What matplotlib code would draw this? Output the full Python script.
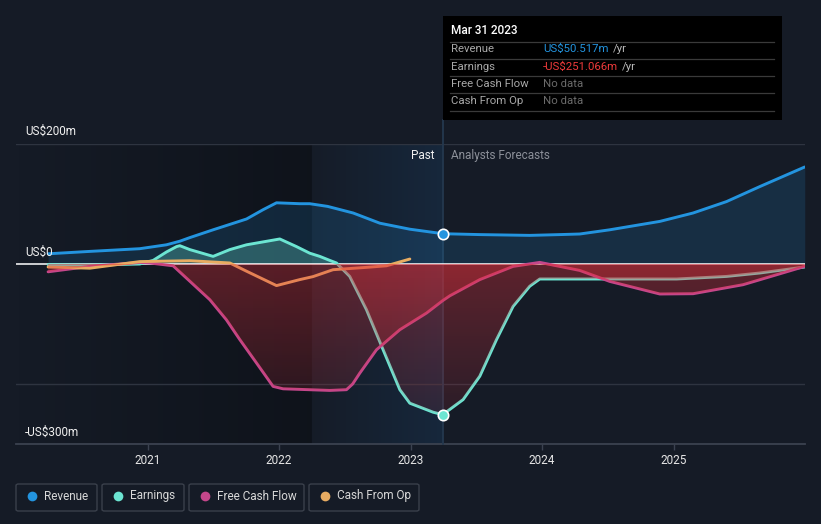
import numpy as np
import matplotlib
matplotlib.use("Agg")
import matplotlib.pyplot as plt
from matplotlib.colors import to_rgb
from matplotlib.patches import Rectangle, FancyBboxPatch
from matplotlib.lines import Line2D

plt.rcParams['font.family'] = ['Roboto', 'DejaVu Sans']

# ---------------- data (US$ millions) ----------------
rev_t = [2020.244, 2020.561, 2020.941, 2021.144, 2021.246, 2021.322, 2021.499, 2021.753,
         2021.879, 2021.981, 2022.158, 2022.234, 2022.37, 2022.564, 2022.767, 2022.995,
         2023.245, 2023.527, 2023.907, 2024.135, 2024.287, 2024.515, 2024.896, 2025.149,
         2025.403, 2025.656, 2025.998]
revenue = [17, 21, 25.5, 32, 38, 44, 57, 75, 90.5, 102, 100.5, 100.5, 96, 85, 68, 58,
           50.517, 49, 47.7, 49, 50, 57, 71, 85, 104, 129, 161.7]

earn_t = [2020.244, 2020.561, 2020.941, 2021.043, 2021.144, 2021.221, 2021.246, 2021.322,
          2021.499, 2021.626, 2021.753, 2022.006, 2022.133, 2022.234, 2022.31, 2022.386,
          2022.437, 2022.538, 2022.665, 2022.792, 2022.919, 2022.995, 2023.172, 2023.245,
          2023.4, 2023.527, 2023.654, 2023.78, 2023.907, 2023.983, 2024.287, 2025.023,
          2025.403, 2025.656, 2025.998]
earnings = [-1, -2, 0, 6, 20, 29, 30.5, 24, 12.7, 24, 32, 41.7, 29, 18, 12.7, 6, 1.7, -20.7,
            -76, -143, -209.5, -232, -247, -251.066, -226, -187, -126, -70.7, -37, -25, -25,
            -25, -20.7, -15, -5]

fcf_t = [2020.244, 2020.561, 2020.941, 2021.017, 2021.195, 2021.474, 2021.6, 2021.702,
         2021.829, 2021.955, 2022.031, 2022.386, 2022.513, 2022.56, 2022.614, 2022.741,
         2022.919, 2023.122, 2023.245, 2023.299, 2023.527, 2023.78, 2023.983, 2024.287,
         2024.515, 2024.896, 2025.149, 2025.529, 2025.998]
fcf = [-13, -4, 2.7, 1.7, -3, -59.5, -93, -126, -165, -204, -208, -210.7, -209.5, -200, -182,
       -143, -109.5, -81.7, -61, -53, -26, -4, 2.7, -10.7, -29, -50, -49.5, -34.5, -4]

cfo_t = [2020.244, 2020.561, 2020.941, 2021.322, 2021.626, 2021.753, 2021.981, 2022.158,
         2022.259, 2022.411, 2022.665, 2022.817, 2022.995]
cfo = [-5, -7, 4, 5.5, 1.7, -12, -36, -26, -21, -9.5, -5.6, -3, 8.3]

year_ticks = [2021, 2022, 2023, 2024, 2025]
year_labels = ['2021', '2022', '2023', '2024', '2025']

now_t = 2023.245
hl_start = 2022.244

# ---------------- style ----------------
BG = '#151b26'
C_REV = '#2394df'
C_EARN = '#6ce5d2'
C_FCF = '#c4478b'
C_CFO = '#e8ac62'
C_RED = '#e0303a'

W, H = 821, 524
fig = plt.figure(figsize=(W / 100, H / 100), dpi=100, facecolor=BG)

def fx(px):
    return px / W

def fy(py):
    return 1 - py / H

ax = fig.add_axes([fx(16), fy(444), fx(805) - fx(16), fy(144) - fy(444)])
ax.set_facecolor(BG)
X0, X1, Y0, Y1 = 2020.0, 2026.0, -300, 200

# background shading: dark past, blue highlight band
n = 1024
g = np.zeros((1, n, 4))
g[..., :3] = to_rgb('#07090d')
g[0, :, 3] = np.linspace(0.0, 0.45, n)
ax.imshow(g, extent=[X0, hl_start, Y0, Y1], aspect='auto', zorder=0, interpolation='nearest')
g2 = np.zeros((1, n, 4))
g2[..., :3] = to_rgb('#1a4a78')
g2[0, :, 3] = np.linspace(0.02, 0.27, n)
ax.imshow(g2, extent=[hl_start, now_t, Y0, Y1], aspect='auto', zorder=0, interpolation='nearest')

# gridlines
ax.axhline(200, color='#2e3440', lw=1, zorder=0.5)
ax.axhline(-200, color='#2e3440', lw=1, zorder=0.5)
ax.axhline(-300, color='#3b4250', lw=1.3, zorder=0.5, clip_on=False)
ax.axhline(0, color='#ffffff', lw=1.1, zorder=1.5)

# vertical "now" line (extends up to the tooltip)
ax.plot([now_t, now_t], [Y0, 240], color='#24384e', lw=1.3, zorder=0.8, clip_on=False)

# positive fills
rv = np.array(revenue)
ax.fill_between(rev_t, rv, 0, color=C_REV, alpha=0.16, lw=0, zorder=1)
ev = np.array(earnings)
ax.fill_between(earn_t, np.maximum(ev, 0), 0, color=C_EARN, alpha=0.28, lw=0, zorder=1)

# lines
lw = 2.1
ax.plot(rev_t, revenue, color=C_REV, lw=lw, zorder=2, solid_capstyle='round', solid_joinstyle='round')
ax.plot(earn_t, earnings, color=C_EARN, lw=lw, zorder=2, solid_capstyle='round', solid_joinstyle='round')
ax.plot(fcf_t, fcf, color=C_FCF, lw=lw, zorder=2, solid_capstyle='round', solid_joinstyle='round')
ax.plot(cfo_t, cfo, color=C_CFO, lw=lw, zorder=2, solid_capstyle='round', solid_joinstyle='round')

# negative fills as vertical red gradients drawn above the lines
def red_fill(t, v):
    v = np.array(v)
    coll = ax.fill_between(t, np.minimum(v, 0), 0, color='none', lw=0)
    grad = np.zeros((n, 1, 4))
    grad[..., :3] = to_rgb(C_RED)
    grad[:, 0, 3] = np.linspace(0.36, 0.06, n)
    im = ax.imshow(grad, extent=[X0, X1, Y0, 0], aspect='auto', zorder=3,
                   interpolation='nearest', origin='upper')
    im.set_clip_path(coll.get_paths()[0], ax.transData)

red_fill(fcf_t, fcf)
red_fill(earn_t, earnings)

# current-point markers
ax.plot([now_t], [revenue[rev_t.index(now_t)]], 'o', ms=7.5, mfc=C_REV, mec='white', mew=1.2, zorder=6)
ax.plot([now_t], [earnings[earn_t.index(now_t)]], 'o', ms=7.5, mfc=C_EARN, mec='white', mew=1.2, zorder=6)

ax.set_xlim(X0, X1)
ax.set_ylim(Y0, Y1)
for s in ax.spines.values():
    s.set_visible(False)
ax.set_yticks([])
ax.set_xticks(year_ticks)
ax.set_xticklabels(year_labels)
ax.tick_params(axis='x', colors='#3b4250', labelcolor='#e6e6e6', length=4, width=1,
               labelsize=8.5, pad=3)

# y labels
fig.text(fx(25), fy(131), 'US$200m', color='#f0f0f0', fontsize=8.5, va='center', ha='left')
fig.text(fx(25), fy(252), 'US$0', color='#f0f0f0', fontsize=8.5, va='center', ha='left')
fig.text(fx(25), fy(432), '-US$300m', color='#f0f0f0', fontsize=8.5, va='center', ha='left')

# Past / forecasts labels
fig.text(fx(434), fy(156), 'Past', color='#f0f0f0', fontsize=8.5, va='center', ha='right')
fig.text(fx(451), fy(156), 'Analysts Forecasts', color='#8c9099', fontsize=8.5, va='center', ha='left')

# tooltip
fig.add_artist(Rectangle((fx(443), fy(120)), fx(782) - fx(443), fy(16) - fy(120),
                         transform=fig.transFigure, facecolor='#000000', edgecolor='none', zorder=8))
for py in [41.7, 58.7, 76.3, 93.3, 111.3]:
    fig.add_artist(Line2D([fx(450), fx(774)], [fy(py), fy(py)], color='#3a3a3a', lw=0.9, zorder=9))
fig.text(fx(451), fy(31), 'Mar 31 2023', color='#ffffff', fontsize=8.5, va='center', ha='left',
         fontweight='medium', zorder=10)
rows = [('Revenue', 49), ('Earnings', 66.5), ('Free Cash Flow', 84), ('Cash From Op', 101)]
for lab, py in rows:
    fig.text(fx(451), fy(py), lab, color='#a8a8a8', fontsize=8.2, va='center', ha='left', zorder=10)

renderer = fig.canvas.get_renderer()
def value_with_unit(py, val, col):
    t = fig.text(fx(543), fy(py), val, color=col, fontsize=8.2, va='center', ha='left', zorder=10)
    bb = t.get_window_extent(renderer=renderer)
    fig.text(bb.x1 / W + fx(4), fy(py), '/yr', color='#bbbbbb', fontsize=8.2,
             va='center', ha='left', zorder=10)

value_with_unit(49, 'US$50.517m', '#2394df')
value_with_unit(66.5, '-US$251.066m', '#ef3b3b')
fig.text(fx(543), fy(84), 'No data', color='#6b6b6b', fontsize=8.2, va='center', ha='left', zorder=10)
fig.text(fx(543), fy(101), 'No data', color='#6b6b6b', fontsize=8.2, va='center', ha='left', zorder=10)

# legend
legend_items = [('Revenue', C_REV, 16, 97), ('Earnings', C_EARN, 102, 184),
                ('Free Cash Flow', C_FCF, 189, 304), ('Cash From Op', C_CFO, 309, 419)]
for lab, col, x0, x1 in legend_items:
    fig.add_artist(FancyBboxPatch((fx(x0), fy(511)), fx(x1) - fx(x0), fy(484) - fy(511),
                                  boxstyle='round,pad=0,rounding_size=0.003',
                                  transform=fig.transFigure, facecolor=BG,
                                  edgecolor='#3a404b', lw=1))
    fig.add_artist(Line2D([fx(x0 + 16)], [fy(496)], marker='o', ms=7, mfc=col, mec='none',
                          ls='none'))
    fig.text(fx(x0 + 28), fy(496), lab, color='#d8d8d8', fontsize=8.5, va='center', ha='left')

fig.savefig('out.png', dpi=100, facecolor=BG)
